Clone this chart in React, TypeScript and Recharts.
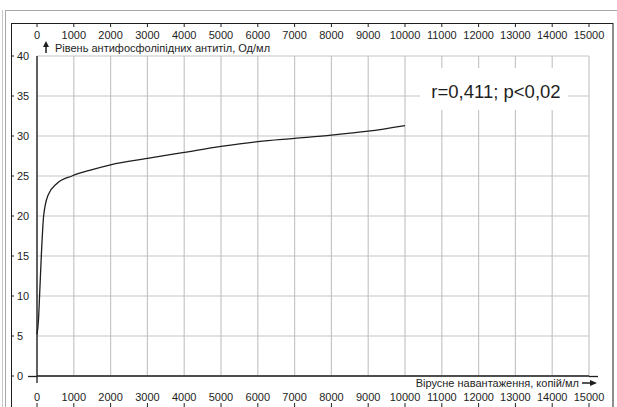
import { CartesianGrid, Line, LineChart, XAxis, YAxis } from "recharts"

const viralLoad = [0, 40, 70, 117, 180, 300, 550, 950, 1500, 2000, 3000, 4000, 5000, 6000, 7000, 8000, 9000, 10000]
const antibodyLevel = [5.2, 7, 10, 15, 20, 22.6, 24.1, 25, 25.8, 26.4, 27.2, 27.95, 28.7, 29.3, 29.7, 30.1, 30.6, 31.3]
const xTicks = [0, 1000, 2000, 3000, 4000, 5000, 6000, 7000, 8000, 9000, 10000, 11000, 12000, 13000, 14000, 15000]
const yTicks = [0, 5, 10, 15, 20, 25, 30, 35, 40]
const yTitle = "Рівень антифосфоліпідних антитіл, Од/мл"
const xTitle = "Вірусне навантаження, копій/мл"
const note = "r=0,411; p<0,02"

const data = viralLoad.map((x, i) => ({ x, y: antibodyLevel[i] }))

const font = "'Liberation Sans', Arial, sans-serif"
const ink = "#1e1e1e"

const TopTick = ({ x, payload }: any) => (
  <g>
    <line x1={x} x2={x} y1={23} y2={27} stroke={ink} />
    <text x={x} y={39} textAnchor="middle" fontSize={11} fontFamily={font} fill={ink}>{payload.value}</text>
  </g>
)

const BottomTick = ({ x, payload }: any) => (
  <g>
    <line x1={x} x2={x} y1={403} y2={408} stroke={ink} />
    <text x={x} y={401} textAnchor="middle" fontSize={11} fontFamily={font} fill={ink}>{payload.value}</text>
  </g>
)

const LeftTick = ({ y, payload }: any) => (
  <g>
    <line x1={11} x2={14} y1={y} y2={y} stroke={ink} />
    <text x={17} y={y + 4} textAnchor="start" fontSize={11} fontFamily={font} fill={ink}>{payload.value}</text>
  </g>
)

const RightTick = ({ y, payload }: any) => (
  <g>
    <line x1={608} x2={613} y1={y} y2={y} stroke={ink} />
    <text x={606} y={y + 4} textAnchor="end" fontSize={11} fontFamily={font} fill={ink}>{payload.value}</text>
  </g>
)

export default function App() {
  return (
    <div style={{ position: "fixed", left: 0, top: 0, width: 617, height: 407, background: "#fff", overflow: "hidden" }}>
      <LineChart width={617} height={407} data={data} margin={{ top: 0, right: 0, bottom: 0, left: 0 }}>
        <CartesianGrid xAxisId="bottom" yAxisId="left" stroke="#c6c6c6" strokeWidth={1.2} />
        <XAxis xAxisId="bottom" dataKey="x" type="number" domain={[0, 15000]} ticks={xTicks} interval={0} height={31}
          axisLine={{ stroke: ink, strokeWidth: 1.3 }} tickLine={false} tick={BottomTick} />
        <XAxis xAxisId="top" orientation="top" dataKey="x" type="number" domain={[0, 15000]} ticks={xTicks} interval={0} height={56}
          axisLine={false} tickLine={false} tick={TopTick} />
        <YAxis yAxisId="left" domain={[0, 40]} ticks={yTicks} interval={0} width={37}
          axisLine={{ stroke: ink, strokeWidth: 1.3 }} tickLine={false} tick={LeftTick} />
        <YAxis yAxisId="right" orientation="right" domain={[0, 40]} ticks={yTicks} interval={0} width={28}
          axisLine={false} tickLine={false} tick={RightTick} />
        <Line xAxisId="bottom" yAxisId="left" dataKey="y" type="monotone" stroke={ink} strokeWidth={1.3} dot={false} isAnimationActive={false} />
      </LineChart>
      <svg width={617} height={407} style={{ position: "absolute", left: 0, top: 0, pointerEvents: "none" }}>
        <rect x={5.5} y={10.5} width={700} height={500} fill="none" stroke="#a8a8a8" />
        <line x1={2.5} x2={2.5} y1={10} y2={407} stroke="#c8c8c8" />
        <rect x={11.5} y={23.5} width={601.5} height={500} fill="none" stroke={ink} />
        <line x1={28} x2={37} y1={376.5} y2={376.5} stroke={ink} strokeWidth={1.3} />
        <line x1={589} x2={598} y1={376.5} y2={376.5} stroke={ink} strokeWidth={1.3} />
        <line x1={37} x2={37} y1={376} y2={383} stroke={ink} strokeWidth={1.3} />
        <line x1={46} x2={46} y1={46} y2={53} stroke={ink} strokeWidth={1.5} />
        <path d="M43,47 L46,41 L49,47 Z" fill={ink} />
        <text x={55} y={52} fontSize={11} fontFamily={font} fill={ink}>{yTitle}</text>
        <text x={579} y={387} textAnchor="end" fontSize={11} fontFamily={font} fill={ink}>{xTitle}</text>
        <line x1={582} x2={591} y1={383} y2={383} stroke={ink} strokeWidth={1.5} />
        <path d="M590,380 L597,383 L590,386 Z" fill={ink} />
        <rect x={420} y={68} width={148} height={42} fill="#fff" />
        <text x={496} y={98} textAnchor="middle" fontSize={18.5} fontFamily={font} fill={ink}>{note}</text>
      </svg>
    </div>
  )
}
